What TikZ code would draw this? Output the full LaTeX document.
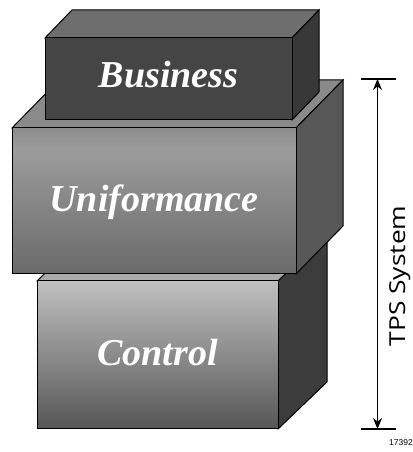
\documentclass[tikz,border=0pt]{standalone}
\usepackage{fontspec}
\setmainfont{Liberation Serif}
\newfontfamily\tpsfont{Open Sans}
\newfontfamily\figfont{Liberation Sans}
\usetikzlibrary{arrows.meta}
\definecolor{busFront}{HTML}{454545}
\definecolor{busTop}{HTML}{6E6E6E}
\definecolor{busSide}{HTML}{383838}
\definecolor{uniTop}{HTML}{8A8A8A}
\definecolor{uniSide}{HTML}{575757}
\definecolor{uniFtop}{HTML}{8C8C8C}
\definecolor{uniFmid}{HTML}{9C9C9C}
\definecolor{uniFbot}{HTML}{6A6A6A}
\definecolor{ctlTop}{HTML}{ABABAB}
\definecolor{ctlSide}{HTML}{3C3C3C}
\definecolor{ctlFtop}{HTML}{C0C0C0}
\definecolor{ctlFbot}{HTML}{565656}
\pgfdeclareverticalshading{uniShade}{100bp}{color(0bp)=(uniFbot); color(25bp)=(uniFbot); color(68bp)=(uniFmid); color(75bp)=(uniFtop); color(100bp)=(uniFtop)}

\begin{document}
\begin{tikzpicture}[x=1pt,y=1pt, faceLine/.style={draw=black, line width=1pt, line join=miter},
    boxLabel/.style={text=white, inner sep=0pt, anchor=base, font=\rmfamily\bfseries\itshape\fontsize{38}{40}\selectfont},
    sizeArrow/.style={{Stealth[length=11pt,width=9pt]}-{Stealth[length=11pt,width=9pt]}, line width=0.9pt},
    tick/.style={line width=1.3pt}]
    \useasboundingbox (0,0) rectangle (412,452);
    % control layer
    \filldraw[faceLine, fill=ctlTop] (37,171) -- (86,218) -- (327,218) -- (278,171) -- cycle;
    \filldraw[faceLine, fill=ctlSide] (278,23) -- (327,70) -- (327,218) -- (278,171) -- cycle;
    \shade[top color=ctlFtop, bottom color=ctlFbot] (37,23) rectangle (278,171);
    \draw[faceLine] (37,23) rectangle (278,171);
    \node[boxLabel] (control) at (157.5,86) {Control};
    % uniformance layer
    \filldraw[faceLine, fill=uniTop] (12,324) -- (59,372) -- (343,372) -- (296,324) -- cycle;
    \filldraw[faceLine, fill=uniSide] (296,178) -- (343,226) -- (343,372) -- (296,324) -- cycle;
    \shade[shading=uniShade] (12,178) rectangle (296,324);
    \draw[faceLine] (12,178) rectangle (296,324);
    \node[boxLabel] (uniformance) at (154,240) {Uniformance};
    % business layer
    \filldraw[faceLine, fill=busTop] (45,414) -- (72,442) -- (319,442) -- (292,414) -- cycle;
    \filldraw[faceLine, fill=busSide] (292,332) -- (319,360) -- (319,442) -- (292,414) -- cycle;
    \filldraw[faceLine, fill=busFront] (45,332) rectangle (292,414);
    \node[boxLabel] (business) at (168.5,364) {Business};
    % TPS system span
    \coordinate (spanTop) at (377.5,373);
    \coordinate (spanBot) at (377.5,23);
    \draw[tick] ([xshift=-16.5pt]spanTop) -- ([xshift=18.5pt]spanTop);
    \draw[tick] ([xshift=-16.5pt]spanBot) -- ([xshift=18.5pt]spanBot);
    \draw[sizeArrow] (spanBot) -- (spanTop);
    \node[rotate=90, anchor=base, inner sep=0pt, font=\tpsfont\fontsize{22}{24}\selectfont] (tps) at (405,176) {\scalebox{1.2}[1]{TPS System}};
    \node[anchor=base east, inner sep=0pt, font=\figfont\fontsize{8.5}{9}\selectfont] (fignum) at (413,6) {17392};
\end{tikzpicture}
\end{document}
